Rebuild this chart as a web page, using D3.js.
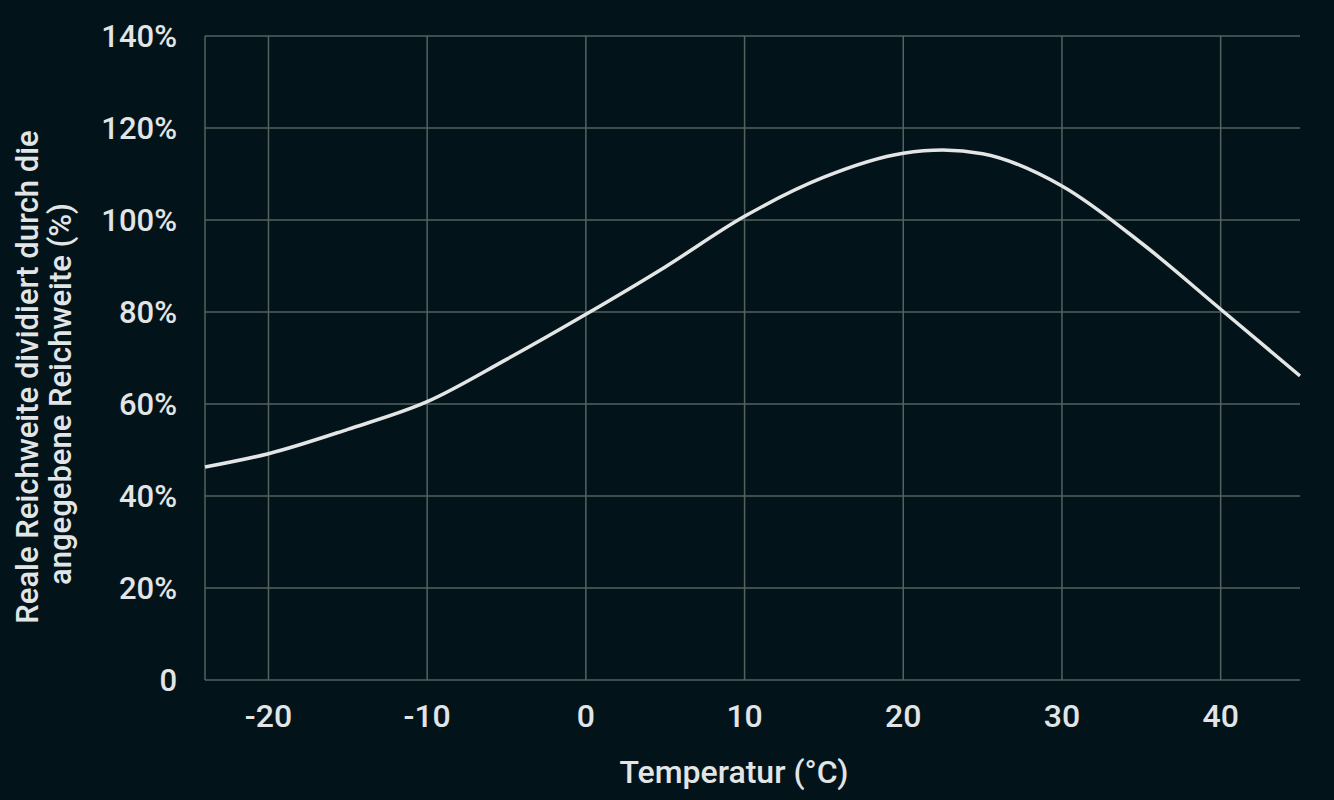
<!DOCTYPE html>
<html>
<head>
<meta charset="utf-8">
<script src="https://cdn.jsdelivr.net/npm/d3@7"></script>
<style>
  html, body { margin: 0; padding: 0; background: #03131a; }
  svg { display: block; }
  text { font-family: Roboto, "Noto Sans", sans-serif; fill: #e2e5e6; font-weight: 500; }
</style>
</head>
<body>
<div class="chart"></div>
<script>
var temps  = [-24, -20, -15, -10, -5, 0, 5, 10, 15, 20, 22.5, 25, 30, 35, 40, 45];
var ratios = [46.3, 49.2, 54.5, 60.5, 69.7, 79.5, 89.8, 100.8, 109.3, 114.5, 115.2, 114.4, 107.4, 95, 80.6, 66.1];

var xTicks = [-20, -10, 0, 10, 20, 30, 40];
var yTicks = [0, 20, 40, 60, 80, 100, 120, 140];

var yTitleLines = ["Reale Reichweite dividiert durch die", "angegebene Reichweite (%)"];
var xTitle = "Temperatur (°C)";

var width = 1334, height = 800;
var plotLeft = 205, plotRight = 1300, plotTop = 36, plotBottom = 680;

var svg = d3.select(".chart").append("svg")
  .attr("width", width).attr("height", height);

var x = d3.scaleLinear().domain([-24, 45]).range([plotLeft, plotRight]);
var y = d3.scaleLinear().domain([0, 140]).range([plotBottom, plotTop]);

// grid
var grid = svg.append("g").attr("stroke", "#55625f").attr("stroke-width", 1.5);
grid.selectAll(".hgrid").data(yTicks).enter().append("line")
  .attr("class", "hgrid")
  .attr("x1", plotLeft).attr("x2", plotRight)
  .attr("y1", function(d) { return y(d); }).attr("y2", function(d) { return y(d); });
grid.selectAll(".vgrid").data(xTicks).enter().append("line")
  .attr("class", "vgrid")
  .attr("y1", plotTop).attr("y2", plotBottom)
  .attr("x1", function(d) { return x(d); }).attr("x2", function(d) { return x(d); });
grid.append("line").attr("x1", plotLeft).attr("x2", plotLeft).attr("y1", plotTop).attr("y2", plotBottom);

// y tick labels
svg.append("g").selectAll("text").data(yTicks).enter().append("text")
  .attr("x", 177)
  .attr("y", function(d) { return y(d); })
  .attr("dy", "0.35em")
  .attr("text-anchor", "end")
  .style("font-size", "31px")
  .text(function(d) { return d === 0 ? "0" : d + "%"; });

// x tick labels
svg.append("g").selectAll("text").data(xTicks).enter().append("text")
  .attr("x", function(d) { return x(d); })
  .attr("y", 727)
  .attr("text-anchor", "middle")
  .style("font-size", "32px")
  .text(function(d) { return d; });

// axis titles
svg.append("text")
  .attr("x", 734).attr("y", 783)
  .attr("text-anchor", "middle")
  .style("font-size", "32px")
  .text(xTitle);

var titleCenters = [377, 394];
var titleBase = [38, 71];
yTitleLines.forEach(function(line, i) {
  svg.append("text")
    .attr("transform", "translate(" + titleBase[i] + "," + titleCenters[i] + ") rotate(-90)")
    .attr("text-anchor", "middle")
    .style("font-size", "31px")
    .text(line);
});

// curve
var lineGen = d3.line()
  .x(function(d, i) { return x(temps[i]); })
  .y(function(d) { return y(d); })
  .curve(d3.curveMonotoneX);

svg.append("path")
  .datum(ratios)
  .attr("d", lineGen)
  .attr("fill", "none")
  .attr("stroke", "#e4e6e6")
  .attr("stroke-width", 3.5);
</script>
</body>
</html>
